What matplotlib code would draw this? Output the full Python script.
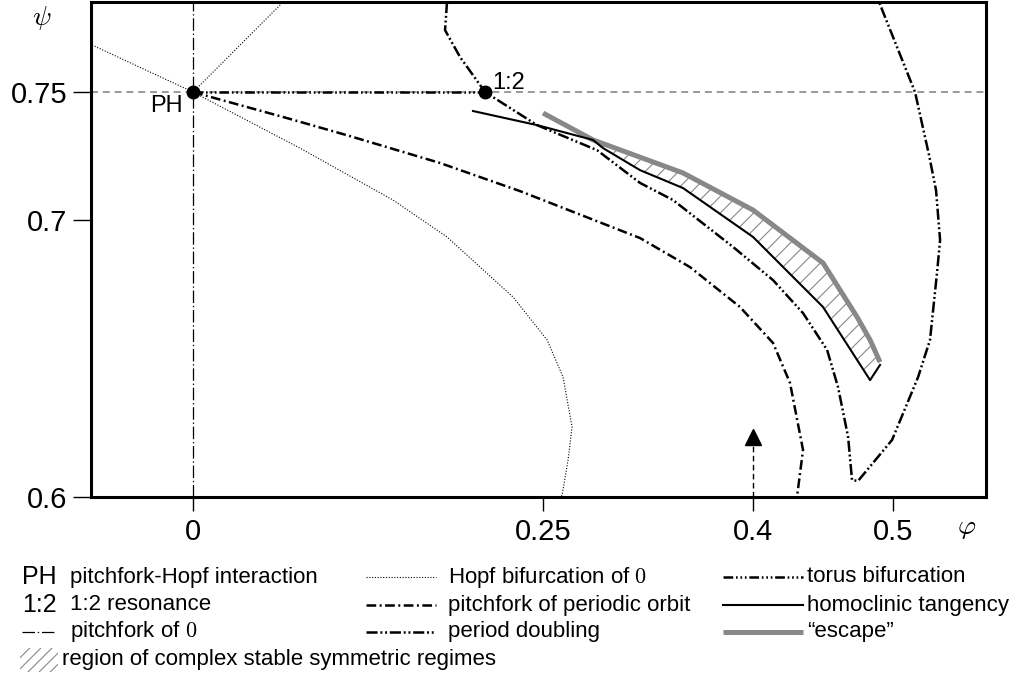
import numpy as np
import matplotlib
matplotlib.use('Agg')
import matplotlib.pyplot as plt
from matplotlib.patches import Rectangle

plt.rcParams['font.family'] = ['Liberation Sans', 'DejaVu Sans']
plt.rcParams['mathtext.fontset'] = 'cm'
plt.rcParams['lines.scale_dashes'] = False
plt.rcParams['hatch.linewidth'] = 0.8
plt.rcParams['hatch.color'] = '#888888'

# === Daten ===
# Hopf-Bifurkation von 0 (gepunktet)
hopf_x = [-0.0721, 0.0, 0.0764, 0.1429, 0.1814, 0.2286, 0.2529, 0.2643, 0.2707, 0.2679, 0.2636, 0.2629]
hopf_y = [0.7684, 0.75, 0.7281, 0.7078, 0.6939, 0.6722, 0.6567, 0.6433, 0.6253, 0.6134, 0.6007, 0.6]
hopf2_x = [0.0, 0.0643]
hopf2_y = [0.75, 0.7852]

# Pitchfork des periodischen Orbits (Strich-Punkt)
pfpo_x = [0.0, 0.0693, 0.1121, 0.1764, 0.2336, 0.25, 0.3193, 0.355, 0.3907, 0.4143, 0.4264, 0.4357, 0.4314]
pfpo_y = [0.75, 0.7395, 0.7328, 0.7223, 0.7113, 0.7078, 0.6935, 0.683, 0.6686, 0.6556, 0.6412, 0.617, 0.6]

# Torus-Bifurkation PH -> 1:2
torus_x = [0.0, 0.2086]
torus_y = [0.75, 0.75]

# Periodenverdopplung
pd_x = [0.1814, 0.18, 0.1907, 0.2086, 0.2457, 0.2886, 0.3193, 0.3429, 0.3857, 0.4143, 0.4357,
        0.4529, 0.4607, 0.4679, 0.4707, 0.475, 0.4993, 0.5179, 0.5264, 0.5314, 0.5336,
        0.5307, 0.5257, 0.5157, 0.49]
pd_y = [0.7852, 0.7742, 0.7637, 0.75, 0.7371, 0.7273, 0.7145, 0.7078, 0.6903, 0.6783, 0.6664,
        0.6531, 0.6397, 0.6217, 0.6061, 0.6058, 0.6206, 0.6433, 0.6567, 0.6809, 0.6928,
        0.7117, 0.7254, 0.75, 0.7852]

# Homokline Tangency
homo_x = [0.2, 0.2457, 0.2857, 0.2929, 0.3193, 0.35, 0.4, 0.45, 0.4836, 0.4907]
homo_y = [0.7426, 0.7371, 0.7313, 0.7281, 0.7195, 0.7125, 0.6939, 0.6686, 0.6422, 0.6477]

# "escape"
esc_x = [0.25, 0.2857, 0.35, 0.4, 0.45, 0.4743, 0.4836, 0.4907]
esc_y = [0.7418, 0.7313, 0.7184, 0.7039, 0.6845, 0.665, 0.6567, 0.6487]

ph_pt = (0.0, 0.75)
res12_pt = (0.2086, 0.75)
arrow_x = 0.4
arrow_y = (0.6, 0.6249)

xticks = [0, 0.25, 0.4, 0.5]
xticklabels = ['0', '0.25', '0.4', '0.5']
yticks = [0.6, 0.7, 0.75]
yticklabels = ['0.6', '0.7', '0.75']

# Linienstile
LS_TORUS = (0, (7, 2, 1.2, 2, 1.2, 2, 1.2, 2))
LS_PD = (0, (8, 2, 1.4, 2, 1.4, 2))
LS_PFPO = (0, (7, 2.5, 1.4, 2.5))
LS_PF0 = (0, (9, 2, 1, 2))
LS_HOPF = (0, (0.8, 1.2))


# y-Achse ist nicht linear -> stueckweise lineare Skala
def fwd(v):
    v = np.asarray(v, dtype=float)
    return np.where(v >= 0.7, 277 + (v - 0.7) * 2560, (v - 0.6) * 2770)


def inv(u):
    u = np.asarray(u, dtype=float)
    return np.where(u >= 277, 0.7 + (u - 277) / 2560, 0.6 + u / 2770)


fig = plt.figure(figsize=(10.18, 6.86), dpi=100)
ax = fig.add_axes([91 / 1018, 1 - 497 / 686, 895 / 1018, 495 / 686])
ax.set_yscale('function', functions=(fwd, inv))
ax.set_xlim(-0.0729, 0.5664)
ax.set_ylim(0.6, 0.7852)

ax.axhline(0.75, color='#888888', lw=1.2, ls=(0, (5, 3.5)), zorder=1)
ax.axvline(0.0, color='black', lw=0.9, ls=LS_PF0, zorder=2)

ax.plot(hopf_x, hopf_y, color='black', lw=0.8, ls=LS_HOPF, zorder=2)
ax.plot(hopf2_x, hopf2_y, color='black', lw=0.8, ls=LS_HOPF, zorder=2)

region_x = homo_x[2:] + esc_x[:0:-1]
region_y = homo_y[2:] + esc_y[:0:-1]
ax.fill(region_x, region_y, facecolor='none', edgecolor='#888888', hatch='//', lw=0, zorder=2)

ax.plot(pfpo_x, pfpo_y, color='black', lw=1.8, ls=LS_PFPO, zorder=3)
ax.plot(torus_x, torus_y, color='black', lw=1.8, ls=LS_TORUS, zorder=3)
ax.plot(pd_x, pd_y, color='black', lw=1.8, ls=LS_PD, zorder=3)
ax.plot(esc_x, esc_y, color='#888888', lw=3.6, zorder=4, solid_capstyle='butt')
ax.plot(homo_x, homo_y, color='black', lw=1.5, zorder=5)

ax.plot(*ph_pt, 'o', color='black', ms=9, zorder=6)
ax.plot(*res12_pt, 'o', color='black', ms=9, zorder=6)
ax.text(-0.019, 0.7445, 'PH', fontsize=17, ha='center', va='center')
ax.text(0.214, 0.7537, '1:2', fontsize=17, ha='left', va='center')

ax.plot([arrow_x, arrow_x], [arrow_y[0], 0.62], color='black', lw=1, ls=(0, (4, 2.5)), zorder=3)
ax.plot(arrow_x, 0.6215, marker='^', color='black', ms=11, zorder=3)

for sp in ax.spines.values():
    sp.set_linewidth(2.2)
ax.set_xticks(xticks)
ax.set_xticklabels(xticklabels)
ax.set_yticks(yticks)
ax.set_yticklabels(yticklabels)
ax.minorticks_off()
ax.tick_params(axis='x', direction='out', length=10, width=1, pad=5, labelsize=21)
ax.tick_params(axis='y', direction='out', length=13, width=1, pad=4, labelsize=21)

fig.text(42 / 1018, 1 - 18 / 686, r'$\psi$', fontsize=20, ha='center', va='center')
fig.text(967 / 1018, 1 - 528 / 686, r'$\varphi$', fontsize=20, ha='center', va='center')

# === Legende (manuell, Pixelkoordinaten) ===
lg = fig.add_axes([0, 0, 1, 1], zorder=-1)
lg.set_xlim(0, 1018)
lg.set_ylim(686, 0)
lg.axis('off')

rows = [577, 605, 632, 660]
FS = 16
lg.text(22, rows[0], 'PH', fontsize=18, va='center')
lg.text(70, rows[0], 'pitchfork-Hopf interaction', fontsize=FS, va='center')
lg.text(22, rows[1], '1:2', fontsize=18, va='center')
lg.text(70, rows[1], '1:2 resonance', fontsize=FS, va='center')
lg.plot([22, 54], [rows[2], rows[2]], color='black', lw=0.9, ls=LS_PF0)
lg.text(70, rows[2], r'pitchfork of $0$', fontsize=FS, va='center')

col2 = (366, 436, 448)
lg.plot(col2[:2], [rows[0]] * 2, color='black', lw=0.8, ls=LS_HOPF)
lg.text(col2[2], rows[0], r'Hopf bifurcation of $0$', fontsize=FS, va='center')
lg.plot(col2[:2], [rows[1]] * 2, color='black', lw=1.8, ls=LS_PFPO)
lg.text(col2[2], rows[1], 'pitchfork of periodic orbit', fontsize=FS, va='center')
lg.plot(col2[:2], [rows[2]] * 2, color='black', lw=1.8, ls=LS_PD)
lg.text(col2[2], rows[2], 'period doubling', fontsize=FS, va='center')

col3 = (723, 803, 807)
lg.plot(col3[:2], [rows[0]] * 2, color='black', lw=1.8, ls=LS_TORUS)
lg.text(col3[2], rows[0], 'torus bifurcation', fontsize=FS, va='center')
lg.plot(col3[:2], [rows[1]] * 2, color='black', lw=1.5)
lg.text(col3[2], rows[1], 'homoclinic tangency', fontsize=FS, va='center')
lg.plot(col3[:2], [rows[2]] * 2, color='#888888', lw=3.6, solid_capstyle='butt')
lg.text(col3[2], rows[2], '\u201cescape\u201d', fontsize=FS, va='center')

lg.add_patch(Rectangle((20, rows[3] - 12), 38, 24, facecolor='none', edgecolor='#888888',
                       hatch='///', lw=0))
lg.text(62, rows[3], 'region of complex stable symmetric regimes', fontsize=FS, va='center')

fig.savefig('out.png', dpi=100)
